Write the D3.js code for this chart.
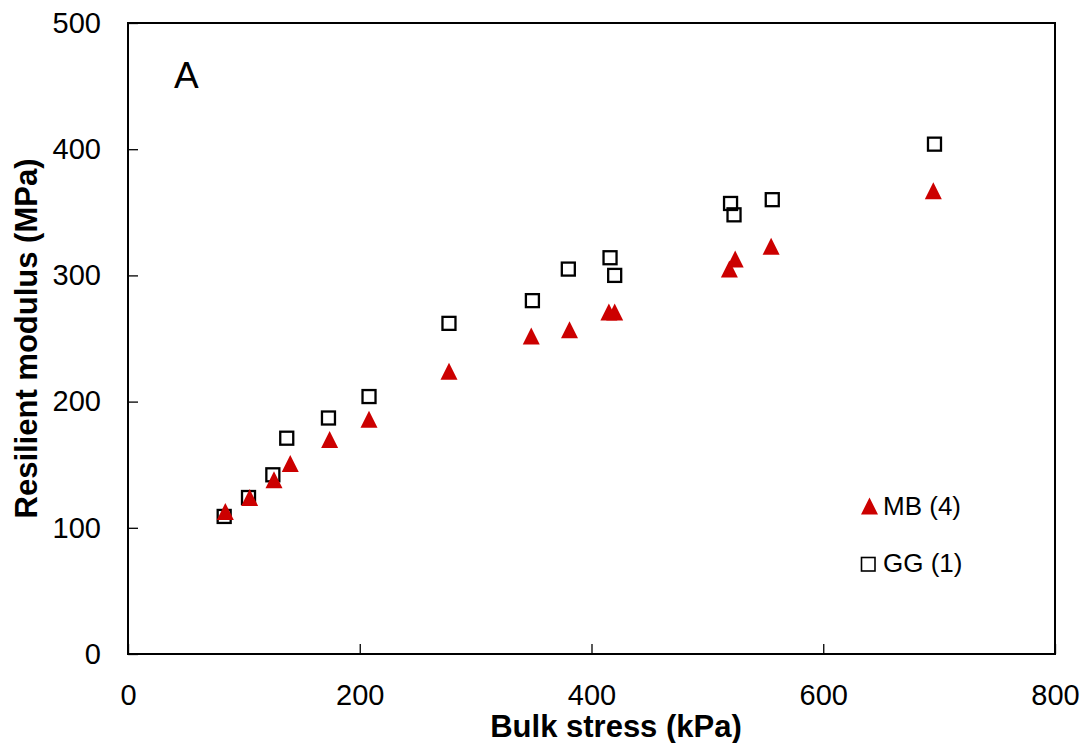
<!DOCTYPE html>
<html>
  <head>
    <meta charset="utf-8" />
    <script src="https://d3js.org/d3.v7.min.js"></script>
    <style>
      body { margin: 0; background: #fff; }
      text { font-family: "Liberation Sans", Arial, sans-serif; fill: #000; }
    </style>
  </head>
  <body>
    <div id="chart"></div>
    <script>
      // bulk stress (kPa) and resilient modulus (MPa)
      const mbStress = [84, 105, 126, 140, 174, 208, 277, 348, 381, 415, 420, 519, 524, 555, 695];
      const mbModulus = [113, 124, 138, 151, 170, 186, 224, 252, 257, 271, 271, 305, 313, 323, 367];
      const ggStress = [83, 104, 125, 137, 173, 208, 277, 349, 380, 416, 420, 520, 523, 556, 696];
      const ggModulus = [109, 124, 142, 171, 187, 204, 262, 280, 305, 314, 300, 357, 348, 360, 404];
      const xTicks = [0, 200, 400, 600, 800];
      const yTicks = [0, 100, 200, 300, 400, 500];

      const width = 1086;
      const height = 743;
      const margin = { top: 23, right: 31, bottom: 89, left: 128 };

      const svg = d3.select("#chart").append("svg").attr("width", width).attr("height", height);

      const x = d3.scaleLinear().domain([0, 800]).range([margin.left, width - margin.right]);
      const y = d3.scaleLinear().domain([0, 500]).range([height - margin.bottom, margin.top]);

      // excel style triangle: as tall as it is wide
      const excelTriangle = {
        draw(ctx, size) {
          const h = Math.sqrt(size) / 2;
          ctx.moveTo(0, -h);
          ctx.lineTo(h, h);
          ctx.lineTo(-h, h);
          ctx.closePath();
        },
      };

      // frame
      svg
        .append("rect")
        .attr("x", x(0))
        .attr("y", y(500))
        .attr("width", x(800) - x(0))
        .attr("height", y(0) - y(500))
        .attr("fill", "none")
        .attr("stroke", "#000")
        .attr("stroke-width", 2);

      // axes with inward ticks
      const xAxis = svg
        .append("g")
        .attr("transform", `translate(0,${y(0)})`)
        .call(d3.axisBottom(x).tickValues(xTicks).tickSize(-10).tickPadding(30));
      const yAxis = svg
        .append("g")
        .attr("transform", `translate(${x(0)},0)`)
        .call(d3.axisLeft(y).tickValues(yTicks).tickSize(-10).tickPadding(27));
      [xAxis, yAxis].forEach((a) => {
        a.select(".domain").remove();
        a.selectAll("line").attr("stroke", "#000").attr("stroke-width", 1.3);
        a.selectAll("text").style("font-size", "29px").style("font-family", '"Liberation Sans", Arial, sans-serif');
      });

      svg
        .append("text")
        .attr("x", 616)
        .attr("y", 737)
        .attr("text-anchor", "middle")
        .style("font-size", "31px")
        .style("font-weight", "bold")
        .text("Bulk stress (kPa)");

      svg
        .append("text")
        .attr("transform", `translate(37,${(y(0) + y(500)) / 2}) rotate(-90)`)
        .attr("text-anchor", "middle")
        .style("font-size", "31px")
        .style("font-weight", "bold")
        .text("Resilient modulus (MPa)");

      svg
        .append("text")
        .attr("x", 174)
        .attr("y", 88)
        .style("font-size", "37px")
        .text("A");

      // GG squares
      svg
        .append("g")
        .selectAll("rect")
        .data(ggStress.map((s, i) => [s, ggModulus[i]]))
        .join("rect")
        .attr("x", (d) => x(d[0]) - 6.5)
        .attr("y", (d) => y(d[1]) - 6.5)
        .attr("width", 13)
        .attr("height", 13)
        .attr("fill", "none")
        .attr("stroke", "#000")
        .attr("stroke-width", 2.3);

      // MB triangles
      svg
        .append("g")
        .selectAll("path")
        .data(mbStress.map((s, i) => [s, mbModulus[i]]))
        .join("path")
        .attr("d", d3.symbol().type(excelTriangle).size(289))
        .attr("transform", (d) => `translate(${x(d[0])},${y(d[1])})`)
        .attr("fill", "#cc0000");

      // legend
      const legend = svg.append("g");
      legend
        .append("path")
        .attr("d", d3.symbol().type(excelTriangle).size(289))
        .attr("transform", "translate(869.5,506)")
        .attr("fill", "#cc0000");
      legend
        .append("text")
        .attr("x", 883)
        .attr("y", 515)
        .style("font-size", "26px")
        .text("MB (4)");
      legend
        .append("rect")
        .attr("x", 861.5)
        .attr("y", 557.5)
        .attr("width", 13.5)
        .attr("height", 13.5)
        .attr("fill", "none")
        .attr("stroke", "#000")
        .attr("stroke-width", 1.6);
      legend
        .append("text")
        .attr("x", 883)
        .attr("y", 572)
        .style("font-size", "26px")
        .text("GG (1)");
    </script>
  </body>
</html>
